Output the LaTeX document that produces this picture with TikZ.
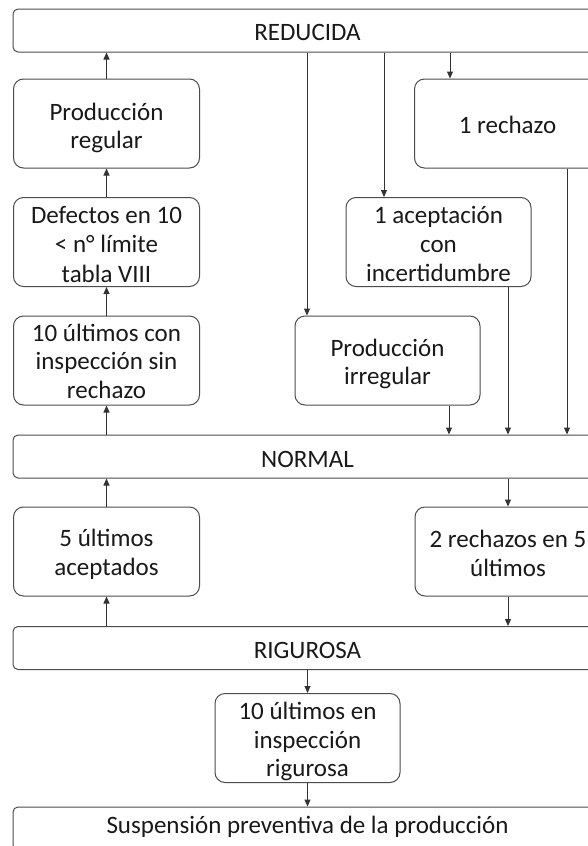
\documentclass[tikz,border=0pt]{standalone}
\usepackage{fontspec}
\setmainfont{Carlito}
\usetikzlibrary{arrows.meta}
\newcommand{\boxlines}[3]{\raisebox{-#1pt}[0pt][0pt]{\fontsize{25}{#2}\selectfont\begin{tabular}[b]{@{}c@{}}#3\end{tabular}}}
\tikzset{
  box/.style={draw=black!70, line width=1pt, rounded corners=10pt, minimum width=186pt, minimum height=89pt, inner sep=0pt, text=black!90},
  bar/.style={draw=black!70, line width=1pt, rounded corners=5pt, minimum width=589pt, minimum height=43pt, inner sep=0pt, text=black!90},
  arr/.style={draw=black!80, line width=1pt, -{Triangle[length=7pt,width=6pt]}},
}
\begin{document}
\begin{tikzpicture}[x=1pt,y=-1pt]
\useasboundingbox (0,0) rectangle (588,846);
\fill[white] (0,0) rectangle (588,846);
\clip (0,0) rectangle (588,846);

% bars
\node[bar] (red)  at (307.5,30.5)  {\boxlines{10.3}{29}{REDUCIDA}};
\node[bar] (norm) at (307.5,456.5) {\boxlines{10.8}{29}{NORMAL}};
\node[bar] (rig)  at (307.5,648)   {\boxlines{10.3}{29}{RIGUROSA}};
\node[bar] (susp) at (307.5,828.5) {\boxlines{5}{29}{Suspensión preventiva de la producción}};

% left column
\node[box] (preg)  at (106.5,123.5) {\boxlines{24.5}{28}{Producción\\regular}};
\node[box] (def)   at (106.5,242)   {\boxlines{40}{29.3}{Defectos en 10\\< n° límite\\tabla VIII}};
\node[box] (ult10) at (106.5,360.5) {\boxlines{37.8}{28.5}{10 últimos con\\inspección sin\\rechazo}};
\node[box] (ult5)  at (106.5,551.5) {\boxlines{23.5}{28.3}{5 últimos\\aceptados}};

% right / middle
\node[box] (rech1)  at (507.5,123.5) {\boxlines{9.8}{29}{1 rechazo}};
\node[box, minimum width=185pt] (acep) at (438.5,242) {\boxlines{39.7}{29.2}{1 aceptación\\con\\incertidumbre}};
\node[box, minimum width=185pt] (pirr) at (387.5,360.5) {\boxlines{23.8}{27.6}{Producción\\irregular}};
\node[box] (rech2)  at (508,551.5) {\boxlines{24.5}{28.7}{2 rechazos en 5\\últimos}};
\node[box, minimum width=185pt] (ult10r) at (307.5,738) {\boxlines{38.7}{28.7}{10 últimos en\\inspección\\rigurosa}};

% x positions of connectors
\coordinate (cA) at (307,0);
\coordinate (cB) at (384,0);
\coordinate (cC) at (450,0);
\coordinate (cD) at (449,0);
\coordinate (cE) at (508,0);
\coordinate (cF) at (567,0);

% left column arrows (upwards)
\draw[arr] (preg.north) -- (red.south -| preg.north);
\draw[arr] (def.north) -- (preg.south);
\draw[arr] (ult10.north) -- (def.south);
\draw[arr] (norm.north -| ult10.south) -- (ult10.south);
\draw[arr] (ult5.north) -- (norm.south -| ult5.north);
\draw[arr] (rig.north -| ult5.south) -- (ult5.south);

% from REDUCIDA down
\draw[arr] (red.south -| cA) -- (pirr.north -| cA);
\draw[arr] (red.south -| cB) -- (acep.north -| cB);
\draw[arr] (red.south -| cC) -- (rech1.north -| cC);

% into NORMAL
\draw[arr] (pirr.south -| cD) -- (norm.north -| cD);
\draw[arr] (acep.south -| cE) -- (norm.north -| cE);
\draw[arr] (rech1.south -| cF) -- (norm.north -| cF);

% NORMAL -> RIGUROSA
\draw[arr] (norm.south -| rech2.north) -- (rech2.north);
\draw[arr] (rech2.south) -- (rig.north -| rech2.south);

% RIGUROSA -> suspension
\draw[arr] (rig.south) -- (ult10r.north);
\draw[arr] (ult10r.south) -- (susp.north);
\end{tikzpicture}
\end{document}
